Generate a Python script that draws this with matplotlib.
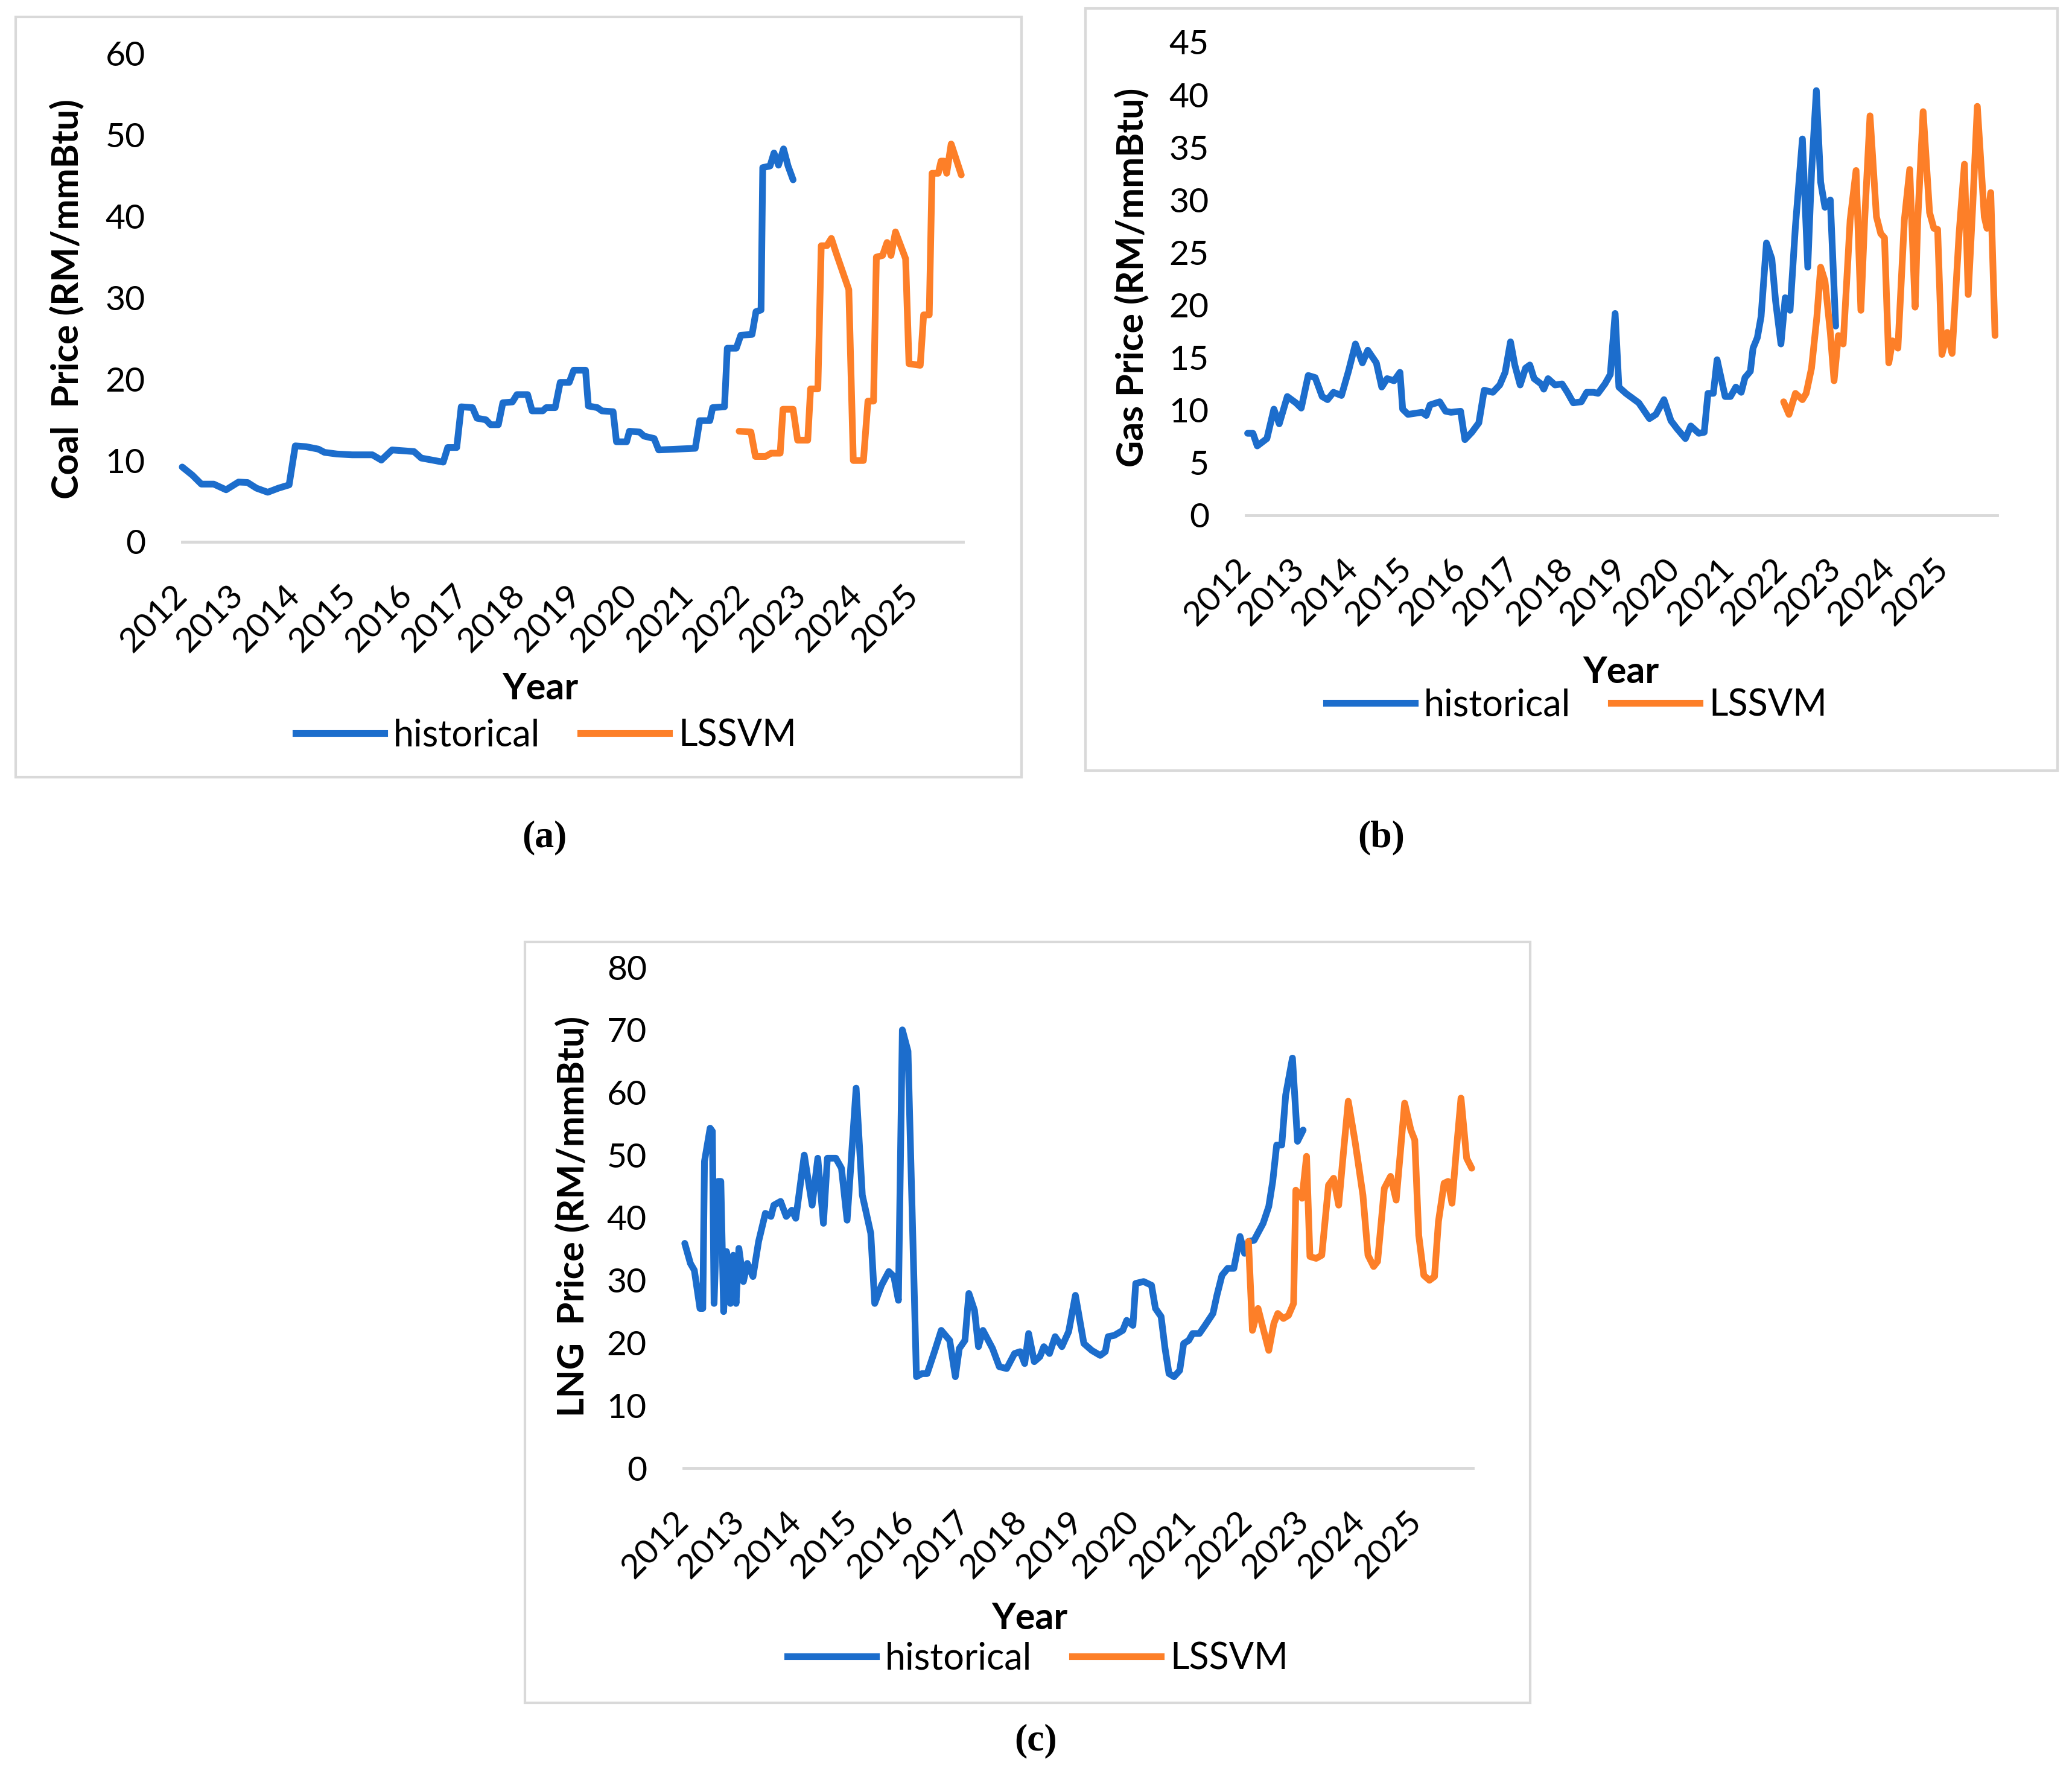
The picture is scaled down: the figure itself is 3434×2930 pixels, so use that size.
import matplotlib
matplotlib.use("Agg")
import matplotlib.pyplot as plt
from matplotlib.patches import Rectangle
from matplotlib.lines import Line2D
from matplotlib.transforms import ScaledTranslation

plt.rcParams['font.family'] = ['Lato', 'DejaVu Sans']

# ---------------- data ----------------
years = list(range(2012, 2026))

coal_hist_x = [2012.00, 2012.18, 2012.34, 2012.56, 2012.78, 2013.00, 2013.16, 2013.32, 2013.52, 2013.71, 2013.90,
               2014.01, 2014.20, 2014.42, 2014.53, 2014.75, 2015.02, 2015.38, 2015.54, 2015.73,
               2016.12, 2016.25, 2016.64, 2016.72, 2016.88, 2016.96,
               2017.16, 2017.24, 2017.40, 2017.48, 2017.62, 2017.70, 2017.87, 2017.95,
               2018.14, 2018.22, 2018.41, 2018.47, 2018.63, 2018.72, 2018.88, 2018.96,
               2019.17, 2019.22, 2019.38, 2019.46, 2019.66, 2019.72, 2019.90, 2019.95,
               2020.13, 2020.21, 2020.39, 2020.47,
               2021.12, 2021.20, 2021.38, 2021.43, 2021.64, 2021.69, 2021.85, 2021.93,
               2022.13, 2022.20, 2022.29, 2022.32, 2022.45, 2022.52, 2022.60, 2022.69, 2022.77, 2022.86]
coal_hist_y = [9.2, 8.2, 7.1, 7.1, 6.4, 7.35, 7.3, 6.6, 6.1, 6.6, 7.0,
               11.8, 11.7, 11.4, 11.0, 10.8, 10.7, 10.7, 10.05, 11.3,
               11.1, 10.3, 9.8, 11.6, 11.6, 16.6,
               16.5, 15.2, 15.0, 14.4, 14.4, 17.1, 17.2, 18.1,
               18.1, 16.1, 16.1, 16.5, 16.5, 19.6, 19.6, 21.1,
               21.1, 16.7, 16.5, 16.1, 16.0, 12.3, 12.3, 13.6,
               13.5, 13.0, 12.7, 11.3,
               11.5, 14.9, 14.9, 16.5, 16.6, 23.8, 23.8, 25.4,
               25.5, 28.3, 28.5, 46.0, 46.2, 47.8, 46.3, 48.3, 46.2, 44.5]
coal_lssvm_x = [2021.90, 2022.11, 2022.19, 2022.37, 2022.47, 2022.63, 2022.68, 2022.86, 2022.94,
                2023.12, 2023.17, 2023.30, 2023.36, 2023.46, 2023.54, 2023.62, 2023.85, 2023.93,
                2024.11, 2024.19, 2024.29, 2024.34, 2024.45, 2024.53, 2024.60, 2024.68, 2024.86, 2024.92,
                2025.12, 2025.18, 2025.28, 2025.33, 2025.44, 2025.49, 2025.54, 2025.59, 2025.67, 2025.85]
coal_lssvm_y = [13.6, 13.5, 10.5, 10.5, 10.9, 10.9, 16.3, 16.3, 12.5,
                12.5, 18.8, 18.8, 36.4, 36.4, 37.3, 35.6, 31.0, 10.0,
                10.0, 17.3, 17.3, 35.0, 35.2, 36.8, 35.2, 38.1, 34.8, 21.9,
                21.7, 27.9, 27.9, 45.3, 45.3, 46.8, 46.8, 45.3, 48.9, 45.1]

gas_hist_x = [2012.03, 2012.13, 2012.21, 2012.39, 2012.52, 2012.62, 2012.77, 2012.93, 2013.03, 2013.16,
              2013.29, 2013.42, 2013.52, 2013.63, 2013.78, 2013.91, 2014.04, 2014.17, 2014.27, 2014.43,
              2014.53, 2014.63, 2014.76, 2014.87, 2014.92, 2015.02, 2015.28, 2015.36, 2015.43, 2015.61,
              2015.72, 2015.82, 2016.00, 2016.08, 2016.21, 2016.34, 2016.44, 2016.60, 2016.73, 2016.83,
              2016.93, 2017.01, 2017.11, 2017.21, 2017.29, 2017.37, 2017.50, 2017.55, 2017.63, 2017.76,
              2017.89, 2017.99, 2018.10, 2018.25, 2018.35, 2018.48, 2018.56, 2018.69, 2018.79, 2018.88,
              2018.95,
              2019.08, 2019.32, 2019.52, 2019.64, 2019.79, 2019.92, 2020.04, 2020.19, 2020.29, 2020.44,
              2020.54, 2020.61, 2020.71, 2020.78, 2020.93, 2021.03, 2021.13, 2021.23, 2021.30, 2021.40,
              2021.45, 2021.53, 2021.60, 2021.70, 2021.80, 2021.87, 2021.97, 2022.05, 2022.14, 2022.24,
              2022.37, 2022.47, 2022.54, 2022.63, 2022.71, 2022.79, 2022.89, 2022.99]
gas_hist_y = [7.8, 7.8, 6.6, 7.3, 10.1, 8.7, 11.3, 10.7, 10.2, 13.3,
              13.1, 11.3, 11.0, 11.7, 11.4, 13.7, 16.3, 14.5, 15.7, 14.5,
              12.2, 13.0, 12.8, 13.6, 10.1, 9.6, 9.8, 9.5, 10.5, 10.8,
              9.9, 9.8, 9.9, 7.2, 7.9, 8.8, 11.9, 11.7, 12.4, 13.6,
              16.5, 14.3, 12.4, 14.0, 14.3, 13.0, 12.5, 12.0, 13.0, 12.4,
              12.5, 11.7, 10.7, 10.8, 11.7, 11.7, 11.6, 12.5, 13.4, 19.2,
              12.2,
              11.6, 10.7, 9.2, 9.6, 11.0, 9.0, 8.2, 7.3, 8.5, 7.8,
              7.9, 11.6, 11.6, 14.8, 11.3, 11.3, 12.2, 11.7, 13.1, 13.7,
              15.9, 16.9, 18.9, 25.9, 24.4, 20.4, 16.3, 20.7, 19.5, 27.5,
              35.8, 23.6, 32.6, 40.4, 31.7, 29.3, 30.0, 18.0]
gas_lssvm_x = [2022.02, 2022.12, 2022.24, 2022.37, 2022.44, 2022.54, 2022.64, 2022.71, 2022.79, 2022.89, 2022.96,
               2023.04, 2023.13, 2023.26, 2023.37, 2023.46, 2023.53, 2023.63, 2023.75, 2023.83, 2023.90, 2023.98,
               2024.05, 2024.15, 2024.27, 2024.37, 2024.47, 2024.52, 2024.62, 2024.74, 2024.82, 2024.89, 2024.97,
               2025.07, 2025.16, 2025.29, 2025.39, 2025.46, 2025.54, 2025.63, 2025.76, 2025.81, 2025.88, 2025.96]
gas_lssvm_y = [10.8, 9.6, 11.6, 11.0, 11.6, 14.0, 18.9, 23.6, 22.3, 17.4, 12.8,
               17.1, 16.3, 28.1, 32.8, 19.5, 28.1, 38.0, 28.4, 26.8, 26.4, 14.5,
               16.6, 15.9, 28.1, 32.9, 19.8, 28.1, 38.4, 28.8, 27.3, 27.2, 15.3,
               17.4, 15.4, 26.8, 33.4, 21.0, 29.0, 38.9, 28.4, 27.3, 30.7, 17.1]

lng_hist_x = [2012.02, 2012.12, 2012.19, 2012.29, 2012.34, 2012.37, 2012.47, 2012.51, 2012.54, 2012.61,
              2012.66, 2012.71, 2012.76, 2012.83, 2012.88, 2012.93, 2012.98, 2013.06, 2013.13, 2013.23,
              2013.33, 2013.45, 2013.55, 2013.60, 2013.72, 2013.82, 2013.92, 2013.99, 2014.14, 2014.28,
              2014.38, 2014.48, 2014.55, 2014.70, 2014.80, 2014.90, 2015.06, 2015.17, 2015.32, 2015.39,
              2015.51, 2015.64, 2015.73, 2015.81, 2015.88, 2015.98, 2016.13, 2016.23, 2016.32, 2016.45,
              2016.57, 2016.72, 2016.82, 2016.89, 2016.99, 2017.06, 2017.16, 2017.23, 2017.31, 2017.48,
              2017.60, 2017.73, 2017.87, 2017.97, 2018.05, 2018.12, 2018.22, 2018.32, 2018.39, 2018.49,
              2018.59, 2018.71, 2018.83, 2018.95,
              2019.10, 2019.24, 2019.39, 2019.48, 2019.53, 2019.64, 2019.79, 2019.86, 2019.97, 2020.02,
              2020.16, 2020.30, 2020.37, 2020.47, 2020.54, 2020.61, 2020.70, 2020.80, 2020.87, 2020.96,
              2021.03, 2021.15, 2021.25, 2021.39, 2021.46, 2021.55, 2021.65, 2021.76, 2021.87, 2021.95,
              2022.02, 2022.12, 2022.28, 2022.38, 2022.45, 2022.52, 2022.61, 2022.68, 2022.80, 2022.89,
              2022.99]
lng_hist_y = [35.9, 32.7, 31.6, 25.5, 25.5, 49.0, 54.3, 53.8, 26.3, 45.8,
              45.8, 25.0, 34.6, 26.3, 34.0, 26.3, 35.1, 29.8, 32.7, 30.6,
              36.2, 40.7, 40.2, 42.0, 42.6, 40.2, 41.2, 39.9, 50.0, 42.0,
              49.5, 39.1, 49.5, 49.5, 47.9, 39.6, 60.7, 43.6, 37.5, 26.3,
              29.2, 31.4, 30.6, 26.8, 70.0, 66.6, 14.6, 15.1, 15.1, 18.6,
              22.0, 20.4, 14.6, 19.1, 20.4, 27.9, 25.2, 19.4, 22.0, 19.1,
              16.2, 15.9, 18.3, 18.6, 16.7, 21.5, 17.0, 17.8, 19.4, 18.3,
              21.0, 19.4, 21.8, 27.6,
              19.9, 18.8, 18.0, 18.6, 21.0, 21.2, 22.0, 23.6, 22.8, 29.5,
              29.8, 29.2, 25.5, 24.2, 19.1, 15.1, 14.6, 15.6, 19.9, 20.4,
              21.5, 21.5, 22.8, 24.7, 27.6, 30.8, 31.9, 31.9, 37.0, 34.3,
              36.2, 36.4, 39.1, 41.8, 45.8, 51.6, 51.6, 59.6, 65.5, 52.2,
              54.0]
lng_lssvm_x = [2022.02, 2022.09, 2022.19, 2022.28, 2022.38, 2022.47, 2022.54, 2022.64, 2022.73, 2022.82, 2022.86, 2022.97,
               2023.05, 2023.11, 2023.22, 2023.32, 2023.44, 2023.53, 2023.62, 2023.70, 2023.79, 2023.91,
               2024.05, 2024.14, 2024.24, 2024.31, 2024.43, 2024.54, 2024.64, 2024.71, 2024.79, 2024.90, 2024.97,
               2025.04, 2025.13, 2025.23, 2025.32, 2025.39, 2025.49, 2025.56, 2025.63, 2025.70, 2025.79, 2025.89, 2025.98]
lng_lssvm_y = [36.2, 22.0, 25.5, 22.3, 18.8, 23.1, 24.7, 23.9, 24.4, 26.3, 44.4, 43.1,
               49.8, 33.8, 33.5, 34.0, 45.2, 46.3, 42.0, 50.0, 58.6, 52.2,
               43.6, 34.0, 32.2, 33.0, 44.7, 46.6, 42.8, 50.0, 58.3, 54.0, 52.4,
               37.2, 30.8, 30.0, 30.6, 39.4, 45.5, 45.8, 42.3, 50.0, 59.1, 49.5, 47.9]

series_labels = ["historical", "LSSVM"]

# ---------------- style ----------------
W, H = 3434, 2930
BLUE = '#1c6dcc'
ORANGE = '#fd7f28'
GRID = '#d9d9d9'
LW = 8
TICK_FS = 41
LABEL_FS = 44
LEG_FS = 44

fig = plt.figure(figsize=(W / 100, H / 100), dpi=100)


def fx(px):
    return px / W


def fy(py):
    return 1 - py / H


def frame(x0, y0, x1, y1):
    fig.patches.append(Rectangle((fx(x0), fy(y1)), fx(x1 - x0), (y1 - y0) / H,
                                 transform=fig.transFigure, fill=False,
                                 edgecolor=GRID, lw=3))


def panel(ax_px, xend, hx, hy, lx, ly, ytop, ystep, ylabel, ylab_pos,
          year_pos, leg_pos, tag, tag_pos):
    x0, y0, x1, y1 = ax_px
    ax = fig.add_axes([fx(x0), fy(y1), fx(x1 - x0), (y1 - y0) / H])
    ax.plot(hx, hy, color=BLUE, lw=LW, solid_joinstyle='round', solid_capstyle='round', clip_on=False)
    ax.plot(lx, ly, color=ORANGE, lw=LW, solid_joinstyle='round', solid_capstyle='round', clip_on=False)
    ax.axhline(0, color=GRID, lw=3.5, clip_on=False, zorder=0)
    ax.set_xlim(2012, xend)
    ax.set_ylim(0, ytop)
    ax.set_yticks(list(range(0, ytop + 1, ystep)))
    ax.set_xticks(years)
    ax.set_xticklabels([str(y) for y in years], rotation=45, ha='right',
                       va='center', rotation_mode='anchor')
    off = ScaledTranslation(0.22, 0, fig.dpi_scale_trans)
    for lab in ax.get_xticklabels():
        lab.set_transform(lab.get_transform() + off)
    ax.tick_params(axis='y', length=0, pad=44, labelsize=TICK_FS)
    ax.tick_params(axis='x', length=0, pad=58, labelsize=TICK_FS)
    for s in ax.spines.values():
        s.set_visible(False)
    ax.patch.set_alpha(0)
    fig.text(fx(ylab_pos[0]), fy(ylab_pos[1]), ylabel, rotation=90, ha='center', va='center',
             fontsize=LABEL_FS, fontweight='bold')
    fig.text(fx(year_pos[0]), fy(year_pos[1]), 'Year', ha='center', va='center',
             fontsize=LABEL_FS, fontweight='bold')
    handles = [Line2D([], [], color=BLUE, lw=LW), Line2D([], [], color=ORANGE, lw=LW)]
    fig.legend(handles, series_labels, loc='center', bbox_to_anchor=(fx(leg_pos[0]), fy(leg_pos[1])),
               ncol=2, frameon=False, fontsize=LEG_FS, handlelength=2.4, handletextpad=0.25,
               columnspacing=1.1, borderpad=0, borderaxespad=0)
    fig.text(fx(tag_pos[0]), fy(tag_pos[1]), tag, ha='center', va='center',
             fontsize=46, fontweight='bold', family=['Liberation Serif', 'DejaVu Serif'])
    return ax


frame(26, 28, 1693, 1288)
frame(1799, 14, 3410, 1277)
frame(870, 1561, 2536, 2822)

panel((302, 89, 1596, 898), 2025.88, coal_hist_x, coal_hist_y, coal_lssvm_x, coal_lssvm_y,
      60, 10, 'Coal  Price (RM/mmBtu)', (110, 496), (895, 1141), (905, 1219), '(a)', (902, 1388))
panel((2065, 70, 3310, 854), 2026.0, gas_hist_x, gas_hist_y, gas_lssvm_x, gas_lssvm_y,
      45, 5, 'Gas Price (RM/mmBtu)', (1875, 460), (2686, 1114), (2613, 1169), '(b)', (2289, 1388))
panel((1133, 1603, 2441, 2433), 2026.0, lng_hist_x, lng_hist_y, lng_lssvm_x, lng_lssvm_y,
      80, 10, 'LNG  Price (RM/mmBtu)', (948, 2016), (1706, 2682), (1720, 2749), '(c)', (1717, 2885))

fig.savefig('out.png', dpi=100, facecolor='white')
